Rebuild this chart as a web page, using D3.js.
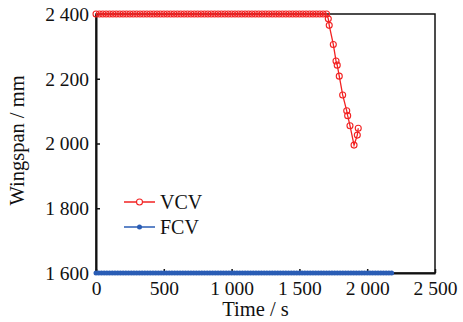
<!DOCTYPE html>
<html>
<head>
<meta charset="utf-8">
<script src="https://cdn.jsdelivr.net/npm/d3@7"></script>
<style>
  body { margin: 0; background: #fff; }
</style>
</head>
<body>
<div id="chart"></div>
<script>
// VCV: flat at 2 400 mm, then wing folds
const vcvTime = [0, 25, 50, 75, 100, 125, 150, 175, 200, 225, 250, 275, 300, 325, 350, 375, 400, 425, 450, 475,
  500, 525, 550, 575, 600, 625, 650, 675, 700, 725, 750, 775, 800, 825, 850, 875, 900, 925, 950, 975,
  1000, 1025, 1050, 1075, 1100, 1125, 1150, 1175, 1200, 1225, 1250, 1275, 1300, 1325, 1350, 1375, 1400, 1425, 1450, 1475,
  1500, 1525, 1550, 1575, 1600, 1625, 1650, 1675, 1700,
  1713, 1720, 1750, 1770, 1779, 1794, 1819, 1849, 1856, 1873, 1903, 1927, 1934];
const vcvSpan = [2400, 2400, 2400, 2400, 2400, 2400, 2400, 2400, 2400, 2400, 2400, 2400, 2400, 2400, 2400, 2400, 2400, 2400, 2400, 2400,
  2400, 2400, 2400, 2400, 2400, 2400, 2400, 2400, 2400, 2400, 2400, 2400, 2400, 2400, 2400, 2400, 2400, 2400, 2400, 2400,
  2400, 2400, 2400, 2400, 2400, 2400, 2400, 2400, 2400, 2400, 2400, 2400, 2400, 2400, 2400, 2400, 2400, 2400, 2400, 2400,
  2400, 2400, 2400, 2400, 2400, 2400, 2400, 2400, 2400,
  2385, 2365, 2306, 2255, 2242, 2208, 2150, 2101, 2086, 2055, 1995, 2026, 2047];

// FCV: fixed at 1 600 mm
const fcvTime = [0, 20, 40, 60, 80, 100, 120, 140, 160, 180, 200, 220, 240, 260, 280, 300, 320, 340, 360, 380,
  400, 420, 440, 460, 480, 500, 520, 540, 560, 580, 600, 620, 640, 660, 680, 700, 720, 740, 760, 780,
  800, 820, 840, 860, 880, 900, 920, 940, 960, 980, 1000, 1020, 1040, 1060, 1080, 1100, 1120, 1140, 1160, 1180,
  1200, 1220, 1240, 1260, 1280, 1300, 1320, 1340, 1360, 1380, 1400, 1420, 1440, 1460, 1480, 1500, 1520, 1540, 1560, 1580,
  1600, 1620, 1640, 1660, 1680, 1700, 1720, 1740, 1760, 1780, 1800, 1820, 1840, 1860, 1880, 1900, 1920, 1940, 1960, 1980,
  2000, 2020, 2040, 2060, 2080, 2100, 2120, 2140, 2160, 2180];
const fcvSpan = fcvTime.map(() => 1600);

const xTicks = [0, 500, 1000, 1500, 2000, 2500];
const yTicks = [1600, 1800, 2000, 2200, 2400];
const seriesNames = ["VCV", "FCV"];
const seriesColors = ["#f22222", "#2a5db5"];

const font = "Liberation Serif";
const width = 463, height = 322;
const margin = {left: 96, top: 14, right: 28, bottom: 49};
const w = width - margin.left - margin.right;
const h = height - margin.top - margin.bottom;

const fmt = d3.formatLocale({decimal: ".", thousands: " ", grouping: [3], currency: ["", ""]}).format(",");

const x = d3.scaleLinear().domain([0, 2500]).range([0, w]);
const y = d3.scaleLinear().domain([1600, 2400]).range([h, 0]);

const svg = d3.select("#chart").append("svg")
    .attr("width", width)
    .attr("height", height);

const g = svg.append("g")
    .attr("transform", `translate(${margin.left}, ${margin.top})`);

// frame
g.append("rect")
    .attr("width", w).attr("height", h)
    .attr("fill", "none").attr("stroke", "#111").attr("stroke-width", 1.5);

const xAxis = g.append("g")
    .attr("transform", `translate(0, ${h})`)
    .call(d3.axisBottom(x).tickValues(xTicks).tickFormat(fmt).tickSizeInner(-4).tickSizeOuter(0).tickPadding(8));
const yAxis = g.append("g")
    .call(d3.axisLeft(y).tickValues(yTicks).tickFormat(fmt).tickSizeInner(-4).tickSizeOuter(0).tickPadding(7));

[xAxis, yAxis].forEach(a => {
    a.attr("font-family", font).attr("font-size", 19.5);
    a.select(".domain").attr("stroke", "#111").attr("stroke-width", 2);
    a.selectAll(".tick line").attr("stroke", "#111").attr("stroke-width", 1.5);
    a.selectAll("text").attr("fill", "#111");
});

g.append("text")
    .attr("x", w / 2 - 10).attr("y", h + 43)
    .attr("text-anchor", "middle")
    .attr("font-family", font).attr("font-size", 20.5).attr("fill", "#111")
    .text("Time / s");

g.append("text")
    .attr("transform", `translate(${-72}, ${h / 2 - 3}) rotate(-90)`)
    .attr("text-anchor", "middle")
    .attr("font-family", font).attr("font-size", 20.5).attr("fill", "#111")
    .text("Wingspan / mm");

const line = d3.line().x(d => x(d[0])).y(d => y(d[1]));

const vcv = d3.zip(vcvTime, vcvSpan);
const fcv = d3.zip(fcvTime, fcvSpan);

// FCV series
g.append("path").datum(fcv)
    .attr("d", line).attr("fill", "none")
    .attr("stroke", seriesColors[1]).attr("stroke-width", 2);
g.selectAll(".fcv").data(fcv).enter().append("circle")
    .attr("class", "fcv")
    .attr("cx", d => x(d[0])).attr("cy", d => y(d[1]))
    .attr("r", 2.5)
    .attr("fill", seriesColors[1]);

// VCV series
g.append("path").datum(vcv)
    .attr("d", line).attr("fill", "none")
    .attr("stroke", seriesColors[0]).attr("stroke-width", 1.3);
g.selectAll(".vcv").data(vcv).enter().append("circle")
    .attr("class", "vcv")
    .attr("cx", d => x(d[0])).attr("cy", d => y(d[1]))
    .attr("r", 3)
    .attr("fill", "none")
    .attr("stroke", seriesColors[0]).attr("stroke-width", 1.1);

// legend
const legend = g.append("g").attr("transform", "translate(28, 188)");
seriesNames.forEach((name, i) => {
    const row = legend.append("g").attr("transform", `translate(0, ${i * 25})`);
    row.append("line").attr("x1", 0).attr("x2", 31).attr("y1", 0).attr("y2", 0)
        .attr("stroke", seriesColors[i]).attr("stroke-width", 1.5);
    if (i === 0) {
        row.append("circle").attr("cx", 15.5).attr("cy", 0).attr("r", 3)
            .attr("fill", "#fff").attr("stroke", seriesColors[i]).attr("stroke-width", 1.1);
    } else {
        row.append("circle").attr("cx", 15.5).attr("cy", 0).attr("r", 2.5)
            .attr("fill", seriesColors[i]);
    }
    row.append("text").attr("x", 36).attr("y", 7)
        .attr("font-family", font).attr("font-size", 20).attr("fill", "#111")
        .text(name);
});
</script>
</body>
</html>
